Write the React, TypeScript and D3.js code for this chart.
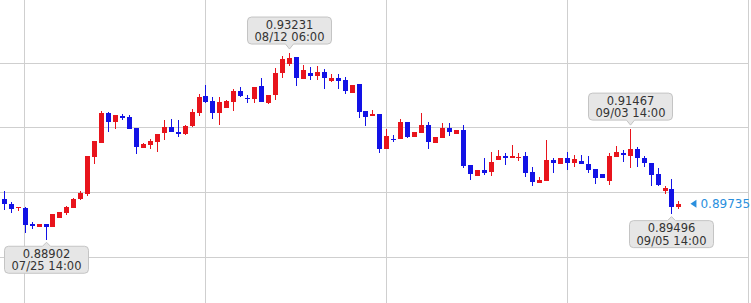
import React from 'react';
import * as d3 from 'd3';

const opens = [
  0.89840, 0.89726, 0.89638, 0.89640, 0.89260, 0.89191, 0.89267, 0.89191, 0.89413, 0.89515,
  0.89645, 0.89840, 0.89963, 0.90828, 0.91152, 0.91848, 0.91639, 0.91771, 0.91755, 0.91486,
  0.91036, 0.91099, 0.91176, 0.91370, 0.91509, 0.91407, 0.91347, 0.91547, 0.91848, 0.92235,
  0.92119, 0.91834, 0.91964, 0.92103, 0.92351, 0.92182, 0.92173, 0.92467, 0.92080, 0.92258,
  0.92761, 0.92977, 0.93132, 0.92629, 0.92775, 0.92699, 0.92792, 0.92590, 0.92652, 0.92606,
  0.92312, 0.92506, 0.91887, 0.91778, 0.91811, 0.90999, 0.91245, 0.91231, 0.91639, 0.91291,
  0.91384, 0.91563, 0.91152, 0.91268, 0.91486, 0.91361, 0.91447, 0.90628, 0.90380, 0.90519,
  0.90466, 0.90751, 0.90844, 0.90798, 0.90814, 0.90844, 0.90466, 0.90211, 0.90264, 0.90751,
  0.90652, 0.90791, 0.90675, 0.90735, 0.90658, 0.90543, 0.90427, 0.90264, 0.90828, 0.90907,
  0.90844, 0.90999, 0.90805, 0.90689, 0.90427, 0.90032, 0.90079, 0.89668,
];
const highs = [
  0.90039, 0.89784, 0.89666, 0.89660, 0.89321, 0.89267, 0.89267, 0.89499, 0.89553, 0.89685,
  0.89863, 0.90039, 0.90844, 0.91199, 0.91894, 0.91864, 0.91795, 0.91811, 0.91788, 0.91486,
  0.91138, 0.91231, 0.91354, 0.91679, 0.91695, 0.91679, 0.91563, 0.91927, 0.92270, 0.92490,
  0.92219, 0.92219, 0.92142, 0.92397, 0.92451, 0.92258, 0.92451, 0.92646, 0.92258, 0.92877,
  0.93170, 0.93231, 0.93132, 0.92954, 0.92900, 0.92931, 0.92854, 0.92745, 0.92745, 0.92683,
  0.92490, 0.92506, 0.91887, 0.91911, 0.91811, 0.91463, 0.91331, 0.91695, 0.91639, 0.91407,
  0.91834, 0.91639, 0.91278, 0.91602, 0.91602, 0.91440, 0.91563, 0.90628, 0.90519, 0.90791,
  0.90937, 0.90983, 0.90907, 0.91099, 0.90920, 0.90944, 0.90582, 0.90364, 0.91215, 0.90805,
  0.90805, 0.90930, 0.90867, 0.90867, 0.90844, 0.90543, 0.90427, 0.90907, 0.91076, 0.90983,
  0.91467, 0.91060, 0.90844, 0.90689, 0.90559, 0.90155, 0.90304, 0.89808,
];
const lows = [
  0.89592, 0.89529, 0.89576, 0.89052, 0.89144, 0.89191, 0.88902, 0.89191, 0.89413, 0.89476,
  0.89631, 0.89824, 0.89917, 0.90658, 0.91152, 0.91407, 0.91463, 0.91679, 0.91463, 0.90890,
  0.91022, 0.90999, 0.90944, 0.91215, 0.91393, 0.91278, 0.91331, 0.91523, 0.91771, 0.92073,
  0.91695, 0.91563, 0.91957, 0.91894, 0.92205, 0.92080, 0.92066, 0.92103, 0.92050, 0.92142,
  0.92659, 0.92931, 0.92467, 0.92629, 0.92606, 0.92606, 0.92390, 0.92567, 0.92390, 0.92275,
  0.92312, 0.91732, 0.91540, 0.91778, 0.90907, 0.90999, 0.91176, 0.91231, 0.91254, 0.91291,
  0.91384, 0.90999, 0.91152, 0.91268, 0.91308, 0.91361, 0.90559, 0.90288, 0.90380, 0.90403,
  0.90380, 0.90751, 0.90635, 0.90798, 0.90735, 0.90350, 0.90148, 0.90211, 0.90264, 0.90443,
  0.90652, 0.90519, 0.90582, 0.90652, 0.90443, 0.90188, 0.90341, 0.90172, 0.90828, 0.90712,
  0.90559, 0.90600, 0.90596, 0.90148, 0.90148, 0.89963, 0.89496, 0.89608,
];
const closes = [
  0.89724, 0.89615, 0.89661, 0.89244, 0.89221, 0.89267, 0.89191, 0.89499, 0.89553, 0.89655,
  0.89840, 0.89993, 0.90844, 0.91199, 0.91848, 0.91639, 0.91795, 0.91718, 0.91477, 0.91060,
  0.91122, 0.91199, 0.91354, 0.91523, 0.91393, 0.91347, 0.91540, 0.91857, 0.92212, 0.92103,
  0.91834, 0.92096, 0.92119, 0.92358, 0.92242, 0.92166, 0.92451, 0.92103, 0.92258, 0.92775,
  0.93093, 0.93109, 0.92646, 0.92838, 0.92706, 0.92792, 0.92659, 0.92659, 0.92590, 0.92358,
  0.92490, 0.91871, 0.91755, 0.91818, 0.90999, 0.91308, 0.91215, 0.91639, 0.91291, 0.91407,
  0.91563, 0.91176, 0.91278, 0.91486, 0.91407, 0.91440, 0.90612, 0.90427, 0.90519, 0.90457,
  0.90712, 0.90844, 0.90805, 0.90844, 0.90828, 0.90457, 0.90248, 0.90288, 0.90751, 0.90675,
  0.90805, 0.90689, 0.90767, 0.90652, 0.90526, 0.90327, 0.90341, 0.90844, 0.90930, 0.90867,
  0.90999, 0.90791, 0.90675, 0.90403, 0.90172, 0.90109, 0.89668, 0.89735,
];

const gridPrices = [0.93, 0.915, 0.9, 0.885];
const gridIndices = [3, 29, 55, 81, 107];

const calloutIndices = [6, 41, 90, 96];
const calloutDates = ['07/25 14:00', '08/12 06:00', '09/03 14:00', '09/05 14:00'];
const calloutKinds = ['low', 'high', 'high', 'low'];

const currentPrice = 0.89735;

const W = 751;
const H = 303;
const UP = '#e8141c';
const DOWN = '#1212e6';
const FONT = 'DejaVu Sans, Verdana, sans-serif';

export default function App() {
  const x = d3.scaleLinear().domain([0, 107]).range([3.8, 748]);
  const y = d3.scaleLinear().domain([0.885, 0.93]).range([257.1, 63.0]);
  const crisp = (v: number) => Math.floor(v) + 0.5;

  const candles = opens.map((o, i) => {
    const c = closes[i];
    const up = c >= o;
    const cx = Math.round(x(i));
    const top = y(Math.max(o, c));
    const bot = y(Math.min(o, c));
    const bt = Math.round(top);
    const bh = Math.max(1, Math.round(bot) - bt);
    return (
      <g key={i} fill={up ? UP : DOWN} stroke={up ? UP : DOWN}>
        <line x1={cx + 0.5} x2={cx + 0.5} y1={Math.round(y(highs[i]))} y2={Math.round(y(lows[i]))} strokeWidth={1} />
        <rect x={cx - 2} y={bt} width={5} height={bh} stroke="none" />
      </g>
    );
  });

  const boxW = 84;
  const boxH = 27;
  const callouts = calloutIndices.map((idx, k) => {
    const cx = Math.round(x(idx)) + 0.5;
    const isHigh = calloutKinds[k] === 'high';
    const price = isHigh ? highs[idx] : lows[idx];
    const py = y(price);
    let tip: number, boxTop: number, path: string;
    const r = 4;
    const L = cx - boxW / 2;
    const R = cx + boxW / 2;
    if (isHigh) {
      tip = py - 4;
      const bb = tip - 5;
      boxTop = bb - boxH;
      path = `M${L + r},${boxTop} H${R - r} Q${R},${boxTop} ${R},${boxTop + r} V${bb - r} Q${R},${bb} ${R - r},${bb} H${cx + 4} L${cx},${tip} L${cx - 4},${bb} H${L + r} Q${L},${bb} ${L},${bb - r} V${boxTop + r} Q${L},${boxTop} ${L + r},${boxTop} Z`;
    } else {
      tip = py + 2.5;
      const bt = tip + 4;
      boxTop = bt;
      const bb = bt + boxH;
      path = `M${L + r},${bt} H${cx - 4} L${cx},${tip} L${cx + 4},${bt} H${R - r} Q${R},${bt} ${R},${bt + r} V${bb - r} Q${R},${bb} ${R - r},${bb} H${L + r} Q${L},${bb} ${L},${bb - r} V${bt + r} Q${L},${bt} ${L + r},${bt} Z`;
    }
    return (
      <g key={`c${k}`}>
        <path d={path} fill="#e6e6e6" stroke="#c4c4c4" strokeWidth={1} />
        <text x={cx} y={boxTop + 11.5} textAnchor="middle" fontSize={11.5} fill="#333" fontFamily={FONT}>
          {price.toFixed(5)}
        </text>
        <text x={cx} y={boxTop + 24} textAnchor="middle" fontSize={11.5} fill="#333" fontFamily={FONT}>
          {calloutDates[k]}
        </text>
      </g>
    );
  });

  const lastX = x(opens.length - 1);
  const cy = y(currentPrice);
  const triX = lastX + 12;

  return (
    <svg width={W} height={H} style={{ position: 'absolute', left: 0, top: 0, background: '#fff' }}>
      <rect x={0} y={0} width={W} height={H} fill="#fff" />
      {gridPrices.map((p) => (
        <line key={`h${p}`} x1={0} x2={crisp(x(107))} y1={crisp(y(p))} y2={crisp(y(p))} stroke="#cfcfcf" strokeWidth={1} />
      ))}
      {gridIndices.map((i) => (
        <line key={`v${i}`} x1={crisp(x(i))} x2={crisp(x(i))} y1={0} y2={H} stroke="#cfcfcf" strokeWidth={1} />
      ))}
      {candles}
      {callouts}
      <path d={`M${triX},${cy} L${triX + 6},${cy - 4} L${triX + 6},${cy + 4} Z`} fill="#2a8fde" />
      <text x={triX + 10} y={cy + 4.5} fontSize={12} fill="#2a8fde" fontFamily={FONT}>
        {currentPrice.toFixed(5)}
      </text>
    </svg>
  );
}
